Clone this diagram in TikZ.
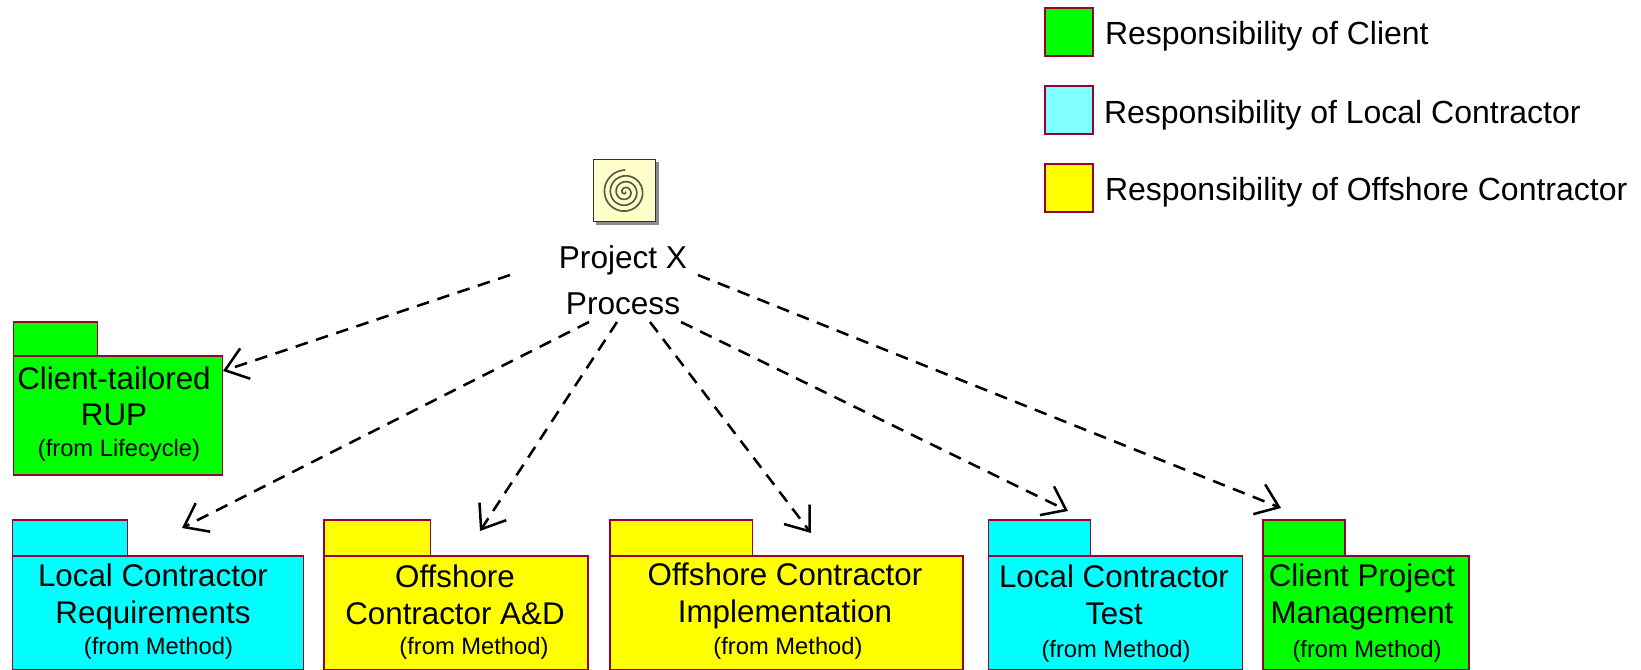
\documentclass[tikz,border=0pt]{standalone}
\usepackage{fontspec}
\setmainfont{Liberation Sans}
\usetikzlibrary{arrows.meta}
\definecolor{pkgline}{HTML}{990033}
\definecolor{clientgreen}{HTML}{00FF00}
\definecolor{localcyan}{HTML}{00FFFF}
\definecolor{legendcyan}{HTML}{80FFFF}
\definecolor{offshoreyellow}{HTML}{FFFF00}
\definecolor{iconfill}{HTML}{FFFFCC}
\definecolor{iconspiral}{HTML}{5A5A3C}
\begin{document}
\begin{tikzpicture}[x=0.75pt,y=-0.75pt,
      every node/.style={inner sep=0pt, outer sep=0pt},
      pkgbody/.style={draw=pkgline, line width=0.9pt, rectangle},
      pkgname/.style={align=center, font=\fontsize{23.5}{28}\selectfont},
      pkgfrom/.style={font=\fontsize{17.8}{20}\selectfont},
      legendbox/.style={draw=pkgline, line width=0.9pt, rectangle, minimum size=36pt},
      legendtext/.style={anchor=west, font=\fontsize{24}{28}\selectfont},
      dep/.style={draw, line width=1.9pt, dash pattern=on 9.5pt off 6.5pt, -{Straight Barb[length=16pt,width=24pt,line width=1.9pt]}}]
      \useasboundingbox (0,0) rectangle (1641,670);
      % Legend
      \node (legendclient) [legendbox, fill=clientgreen] at (1069,32) {};
      \node (legendlocal) [legendbox, fill=legendcyan] at (1069,110) {};
      \node (legendoffshore) [legendbox, fill=offshoreyellow] at (1069,188) {};
      \node (textclient) [legendtext] at (1105,36) {Responsibility of Client};
      \node (textlocal) [legendtext] at (1104,115) {Responsibility of Local Contractor};
      \node (textoffshore) [legendtext] at (1105,192) {Responsibility of Offshore Contractor};
      % Process icon
      \fill [black!45] (596,162) rectangle (659,225);
      \node (icon) [draw=black!80, line width=0.75pt, fill=iconfill, minimum size=47pt] at (624.5,190.5) {};
      \draw [iconspiral, line width=1.25pt, domain=0:1350, samples=200, smooth, variable=\t]
        plot ({625+\t/1350*22*cos(\t)},{192+\t/1350*22*sin(\t)});
      % Process name
      \node (proc) [align=center, font=\fontsize{23.7}{34.5}\selectfont] at (623,280) {Project X\\Process};
      % Client-tailored package
      \node (client) [pkgbody, fill=clientgreen, minimum width=157pt, minimum height=89.25pt] at (118,415.5) {};
      \node (clienttab) [pkgbody, fill=clientgreen, anchor=south west, minimum width=63pt, minimum height=25.5pt] at (client.north west) {};
      \node (clientname) [pkgname, font=\fontsize{23.5}{27}\selectfont] at (114,396) {Client-tailored\\RUP};
      \node (clientfrom) [pkgfrom] at (119,450) {(from Lifecycle)};
      % Local requirements package
      \node (req) [pkgbody, fill=localcyan, minimum width=218pt, minimum height=85.5pt] at (158,613) {};
      \node (reqtab) [pkgbody, fill=localcyan, anchor=south west, minimum width=86pt, minimum height=27pt] at (req.north west) {};
      \node (reqname) [pkgname] at (153,597) {Local Contractor\\Requirements};
      \node (reqfrom) [pkgfrom] at (158.5,648) {(from Method)};
      % Offshore A&D package
      \node (and) [pkgbody, fill=offshoreyellow, minimum width=198pt, minimum height=85.5pt] at (456,613) {};
      \node (andtab) [pkgbody, fill=offshoreyellow, anchor=south west, minimum width=80pt, minimum height=27pt] at (and.north west) {};
      \node (andname) [pkgname] at (455,595) {Offshore\\Contractor A\&D};
      \node (andfrom) [pkgfrom] at (474,648) {(from Method)};
      % Offshore implementation package
      \node (impl) [pkgbody, fill=offshoreyellow, minimum width=264.75pt, minimum height=85.5pt] at (786.5,613) {};
      \node (impltab) [pkgbody, fill=offshoreyellow, anchor=south west, minimum width=107pt, minimum height=27pt] at (impl.north west) {};
      \node (implname) [pkgname] at (785,596) {Offshore Contractor\\Implementation};
      \node (implfrom) [pkgfrom] at (788,648) {(from Method)};
      % Local test package
      \node (test) [pkgbody, fill=localcyan, minimum width=190pt, minimum height=85.5pt] at (1115.5,613) {};
      \node (testtab) [pkgbody, fill=localcyan, anchor=south west, minimum width=76.5pt, minimum height=27pt] at (test.north west) {};
      \node (testname) [pkgname] at (1114,595) {Local Contractor\\Test};
      \node (testfrom) [pkgfrom] at (1116,651) {(from Method)};
      % Client management package
      \node (mgmt) [pkgbody, fill=clientgreen, minimum width=154.5pt, minimum height=85.5pt] at (1366,613) {};
      \node (mgmttab) [pkgbody, fill=clientgreen, anchor=south west, minimum width=61.5pt, minimum height=27pt] at (mgmt.north west) {};
      \node (mgmtname) [pkgname] at (1362,597) {Client Project\\Management};
      \node (mgmtfrom) [pkgfrom] at (1367,651) {(from Method)};
      % Connector ends
      \coordinate (procclient) at (510,275);
      \coordinate (procreq) at (589,322);
      \coordinate (procand) at (617,322);
      \coordinate (procimpl) at (650,322);
      \coordinate (proctest) at (681,322);
      \coordinate (procmgmt) at (698,275);
      \coordinate (tipclient) at (223,371);
      \coordinate (tipreq) at (182,528);
      \coordinate (tipand) at (480,531);
      \coordinate (tipimpl) at (811,533);
      \coordinate (tiptest) at (1068,511);
      \coordinate (tipmgmt) at (1281,508);
      % Dependencies
      \draw [dep] (procclient) -- (tipclient);
      \draw [dep] (procreq) -- (tipreq);
      \draw [dep] (procand) -- (tipand);
      \draw [dep] (procimpl) -- (tipimpl);
      \draw [dep] (proctest) -- (tiptest);
      \draw [dep] (procmgmt) -- (tipmgmt);
\end{tikzpicture}
\end{document}
